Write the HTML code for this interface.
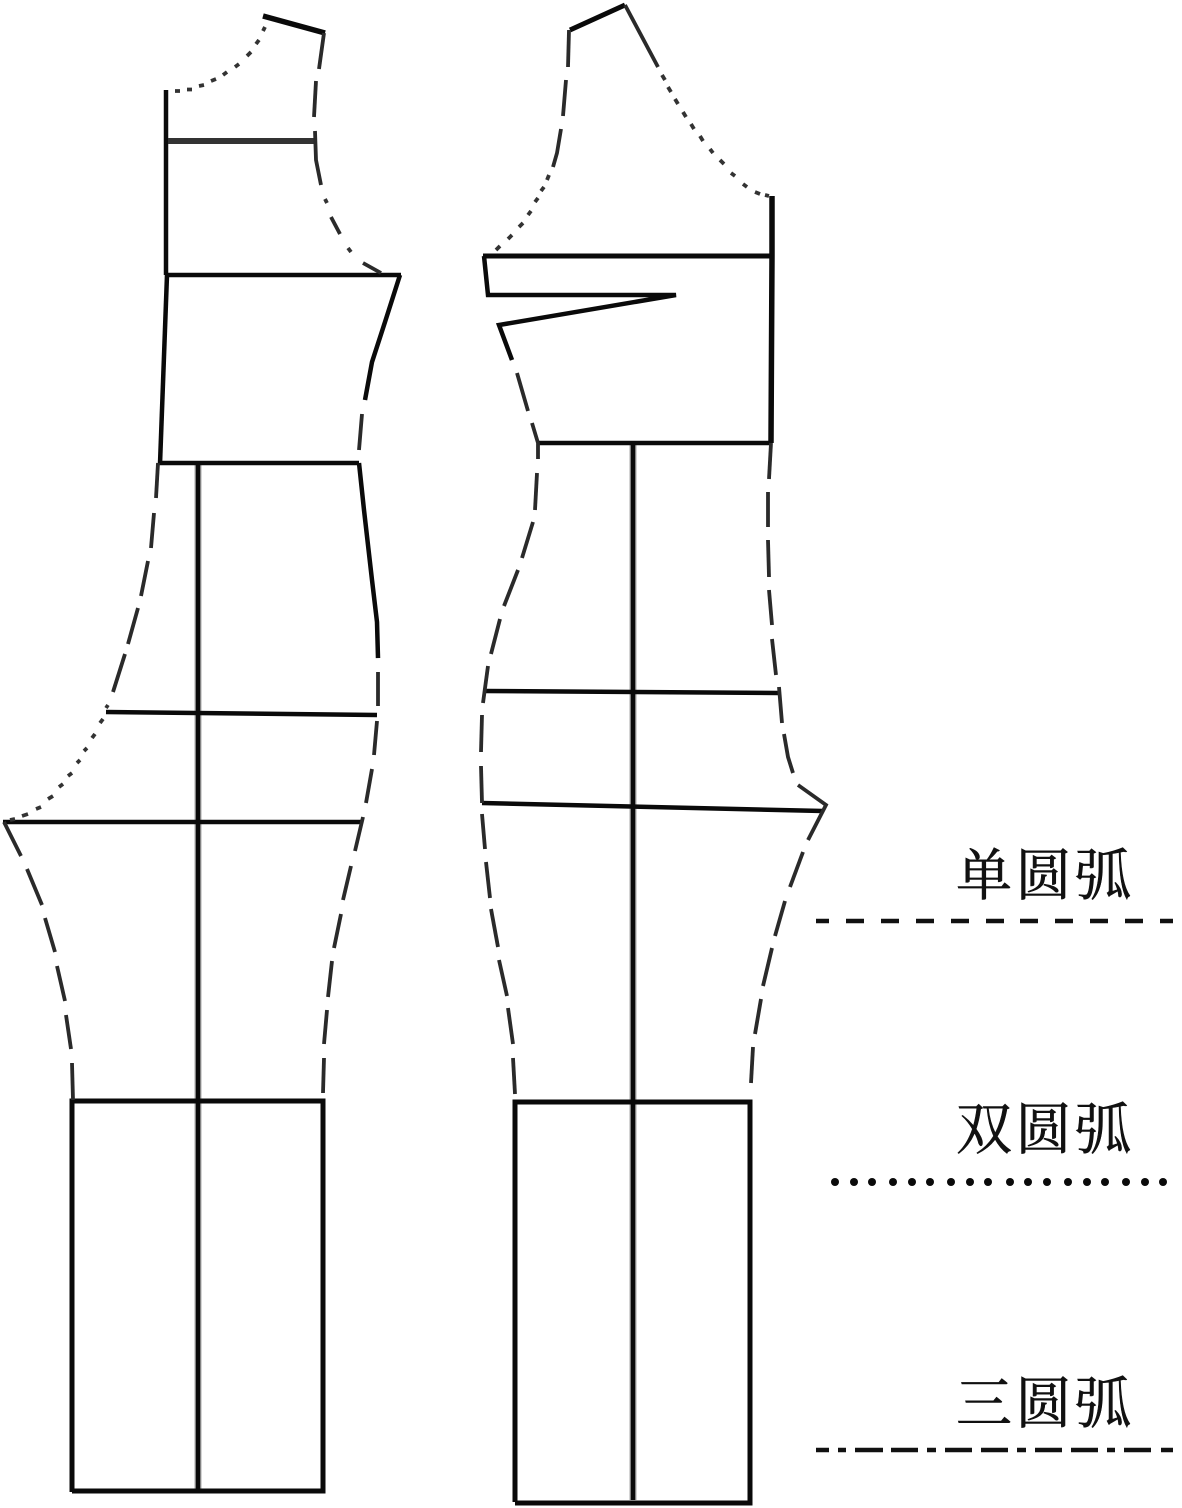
<!DOCTYPE html>
<html lang="zh">
<head>
<meta charset="utf-8">
<title>圆弧示意图</title>
<style>
html,body{margin:0;padding:0;background:#fff;}
body{width:1182px;height:1508px;overflow:hidden;}
svg{display:block;}
text{font-family:"Liberation Serif","Noto Serif CJK SC",serif;font-size:56px;fill:#111;stroke:#111;stroke-width:.6px;}
</style>
</head>
<body>
<svg xmlns="http://www.w3.org/2000/svg" width="1182" height="1508" viewBox="0 0 1182 1508">
<rect width="1182" height="1508" fill="#fff"/>

<!-- soft grey halo on the centre lines -->
<g fill="none" stroke="#aaa" stroke-width="7">
<path d="M198 463V1492"/>
<path d="M633 443V1500"/>
</g>

<!-- LEFT FIGURE solid -->
<g fill="none" stroke="#0a0a0a" stroke-width="4.500" stroke-linejoin="miter" stroke-linecap="butt">
<path d="M263 16L325 33" stroke-width="5.500"/>
<path d="M166 90V275"/>
<path d="M168 141H315" stroke="#333" stroke-width="6"/>
<path d="M166 275H401"/>
<path d="M400 275L385 322L372 362L365 400"/>
<path d="M167 275L160 464"/>
<path d="M158 463H359"/>
<path d="M359 463L364 510L372 580L377 622L378 658" />
<path d="M198 463V1492"/>
<path d="M106 712L377 715"/>
<path d="M3 822H362"/>
<path d="M72 1492V1101H323V1491H72" stroke-width="5"/>
</g>

<!-- LEFT FIGURE dashes -->
<g fill="none" stroke="#2a2a2a" stroke-width="3.800">
<path d="M324 33L319 69"/>
<path d="M316 81L314 117"/>
<path d="M315 131L316 160L321 185"/>
<path d="M331 217L340 234"/>
<path d="M363 263L381 273"/>
<path d="M362 414L359 450"/>
<path d="M158 463L156 498"/>
<path d="M154 513L151 548"/>
<path d="M148 561L141 596"/>
<path d="M138 608L128 644"/>
<path d="M125 654L113 692"/>
<path d="M378 672V706"/>
<path d="M377 721L374 755"/>
<path d="M372 769L366 803"/>
<path d="M363 817L355 851"/>
<path d="M351 866L343 900"/>
<path d="M341 914L334 948"/>
<path d="M332 961L328 997"/>
<path d="M327 1010L324 1044"/>
<path d="M324 1058L323 1093"/>
<path d="M4 822L21 856"/>
<path d="M27 869L42 905"/>
<path d="M45 918L55 952"/>
<path d="M57 966L65 1001"/>
<path d="M66 1015L71 1049"/>
<path d="M72 1063L73 1100"/>
</g>

<!-- LEFT FIGURE dots -->
<g fill="none" stroke="#333" stroke-width="3.800" stroke-linecap="butt">
<path d="M175 91h5M187 89.500h5M199 86l5-1M211 81l5-2M223 75l4-3M235 67l4-3M247 56l4-4M256 44l3-4M263 31l2-4"/>
<path d="M325 199l2 4M348 248l3 4"/>
<path d="M106 708l2-3M100 723l3-4M92 738l3-4M84 751l3-3M77 763l3-3M68 776l4-3M59 787l4-3M48 799l5-3M36 809l5-2M22 816l6-2M10 820l5-1"/>
</g>

<!-- RIGHT FIGURE solid -->
<g fill="none" stroke="#0a0a0a" stroke-width="4.500" stroke-linejoin="miter">
<path d="M570 30L625 5" stroke-width="5"/>
<path d="M772 196V256L771 443" stroke-width="5.500"/>
<path d="M483 256H772" stroke-width="5"/>
<path d="M484 256L488 295H676L499 325L512 360"/>
<path d="M537 443H771"/>
<path d="M633 443V1500"/>
<path d="M485 691L778 693"/>
<path d="M482 803L823 811"/>
<path d="M515 1502V1102H750V1503H515" stroke-width="5"/>
</g>

<!-- RIGHT FIGURE dashes -->
<g fill="none" stroke="#2a2a2a" stroke-width="3.800">
<path d="M625 5L658 67"/>
<path d="M569 30L568 67"/>
<path d="M566 80L563 116"/>
<path d="M561 129L557 153L553 167"/>
<path d="M517 373L528 411"/>
<path d="M532 423L538 443L538 459"/>
<path d="M537 473L535 510"/>
<path d="M533 522L522 558"/>
<path d="M518 570L504 606"/>
<path d="M500 619L491 654"/>
<path d="M488 666L483 703"/>
<path d="M482 715L481 752"/>
<path d="M481 766L482 803"/>
<path d="M482 814L485 849"/>
<path d="M486 862L490 898"/>
<path d="M491 909L498 947"/>
<path d="M499 960L507 996"/>
<path d="M508 1008L513 1044"/>
<path d="M513 1058L515 1094"/>
<path d="M771 443L769 479"/>
<path d="M768 492V527"/>
<path d="M768 540L769 577"/>
<path d="M769 590L772 625"/>
<path d="M772 639L776 675"/>
<path d="M779 687L782 723"/>
<path d="M784 734L788 757L793 773"/>
<path d="M798 785L826 805L808 840"/>
<path d="M803 852L790 887"/>
<path d="M785 901L775 936"/>
<path d="M772 948L763 986"/>
<path d="M761 999L755 1034"/>
<path d="M753 1047L751 1083"/>
</g>

<!-- RIGHT FIGURE dots -->
<g fill="none" stroke="#333" stroke-width="3.800">
<path d="M662 75l3 5M668 87l3 5M675 99l3 5M683 112l3 5M691 124l3 5M700 136l3 5M710 149l3 4M720 160l4 4M731 173l4 3M743 184l4 3M755 192l5 2M765 195l4 1"/>
<path d="M549 175l-2 5M544 187l-3 4M538 198l-3 4M531 211l-3 4M523 223l-4 4M512 235l-4 4M500 246l-4 4"/>
</g>

<!-- LEGEND -->
<text x="956" y="895" textLength="175" lengthAdjust="spacing">单圆弧</text>
<text x="956" y="1149" textLength="175" lengthAdjust="spacing">双圆弧</text>
<text x="956" y="1423" textLength="175" lengthAdjust="spacing">三圆弧</text>

<path d="M816 921H829M846 921H864M881 921H899M916 921H934M951 921H969M986 921H1004M1020 921H1038M1055 921H1073M1090 921H1108M1125 921H1143M1160 921H1173" fill="none" stroke="#111" stroke-width="4.500"/>

<g fill="#0a0a0a">
<circle cx="835" cy="1182" r="4"/><circle cx="854" cy="1182" r="4"/><circle cx="872" cy="1182" r="4"/>
<circle cx="893" cy="1182" r="4"/><circle cx="912" cy="1182" r="4"/><circle cx="930" cy="1182" r="4"/>
<circle cx="951" cy="1182" r="4"/><circle cx="970" cy="1182" r="4"/><circle cx="988" cy="1182" r="4"/>
<circle cx="1010" cy="1182" r="4"/><circle cx="1028" cy="1182" r="4"/><circle cx="1047" cy="1182" r="4"/>
<circle cx="1068" cy="1182" r="4"/><circle cx="1087" cy="1182" r="4"/><circle cx="1105" cy="1182" r="4"/>
<circle cx="1126" cy="1182" r="4"/><circle cx="1145" cy="1182" r="4"/><circle cx="1163" cy="1182" r="4"/>
</g>

<path d="M816 1450H829M838 1450H846M855 1450H883M891 1450H918M927 1450H936M945 1450H972M981 1450H1008M1017 1450H1026M1035 1450H1062M1071 1450H1098M1107 1450H1115M1124 1450H1151M1161 1450H1173" fill="none" stroke="#111" stroke-width="4.500"/>
</svg>
</body>
</html>
